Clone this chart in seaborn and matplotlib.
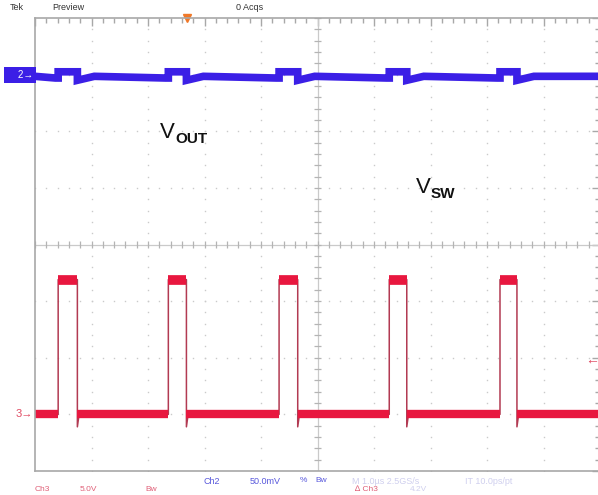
import numpy as np
import pandas as pd
import matplotlib
matplotlib.use('Agg')
import matplotlib.pyplot as plt
from matplotlib.transforms import offset_copy
import seaborn as sns

# scope capture, 10 x 8 divisions, time in divisions (1.0us/div)
# switching node (Ch3) edges
sw_rise = [0.41, 2.36, 4.32, 6.27, 8.23]
sw_fall = [0.75, 2.68, 4.65, 6.58, 8.53]
sw_low = -3.0
sw_high = -0.62
sw_undershoot = -3.22

# output ripple (Ch2), levels in divisions
vout_base = 2.97
vout_pre = 2.94
vout_bump = 3.05
vout_dip = 2.9
vout_recover = 0.3

trig_pos = 2.69
trig_level = -2.04
ch2_pos = 3.0
ch3_pos = -3.0

sns.set_style('white')
plt.rcParams['font.family'] = ['Liberation Sans', 'DejaVu Sans']

# build waveforms from the edge lists
sw_t, sw_v = [0.0], [sw_low]
vo_t, vo_v = [0.0], [vout_base]
for r, f in zip(sw_rise, sw_fall):
    sw_t += [r, r, f, f, f + 0.03]
    sw_v += [sw_low, sw_high, sw_high, sw_undershoot, sw_low]
    vo_t += [r - 0.05, r, r, f, f, f + vout_recover]
    vo_v += [vout_pre, vout_pre, vout_bump, vout_bump, vout_dip, vout_base]
sw_t.append(10.0)
sw_v.append(sw_low)
vo_t.append(10.0)
vo_v.append(vout_base)

sw = pd.DataFrame({'t': sw_t, 'v': sw_v})
vo = pd.DataFrame({'t': vo_t, 'v': vo_v})

fig = plt.figure(figsize=(5.98, 4.95), dpi=100)
ax = fig.add_axes([35 / 598, 24 / 495, 565 / 598, 453 / 495])
ax.set_xlim(0, 10)
ax.set_ylim(-4, 4)

# graticule
grid_c = '#cacaca'
for s in ax.spines.values():
    s.set_color('#a8a8a8')
    s.set_linewidth(1.2)
ax.set_xticks(np.arange(0, 11, 1))
ax.set_yticks(np.arange(-4, 5, 1))
ax.set_xticks(np.arange(0, 10.01, 0.2), minor=True)
ax.set_yticks(np.arange(-4, 4.01, 0.2), minor=True)
ax.tick_params(which='both', direction='in', top=True, right=True,
               labelbottom=False, labelleft=False, color='#a8a8a8')
ax.tick_params(which='major', length=6, width=1)
ax.tick_params(which='minor', length=3.5, width=1)

dots = np.arange(0, 10.01, 0.2)
for gx in [1, 2, 3, 4, 6, 7, 8, 9]:
    ax.plot(np.full(41, gx), np.arange(-4, 4.01, 0.2), ls='none', marker='s',
            ms=1.0, color=grid_c, mew=0)
for gy in [-3, -2, -1, 1, 2, 3]:
    ax.plot(dots, np.full(len(dots), gy), ls='none', marker='s', ms=1.0,
            color=grid_c, mew=0)
ax.axvline(5, color=grid_c, lw=0.9)
ax.axhline(0, color=grid_c, lw=0.9)
ax.hlines(np.arange(-4, 4.01, 0.2), 4.94, 5.06, color='#b4b4b4', lw=0.9)
ax.vlines(dots, -0.07, 0.07, color='#b4b4b4', lw=0.9)

# Ch2 output voltage trace
sns.lineplot(data=vo, x='t', y='v', sort=False, estimator=None, ax=ax,
             color='#3b1fe6', lw=5.5, solid_joinstyle='miter',
             solid_capstyle='butt')

# Ch3 switch node trace: thin edges plus noisy flat bands
sns.lineplot(data=sw, x='t', y='v', sort=False, estimator=None, ax=ax,
             color='#b23a52', lw=1.1)
low_start = [0.0] + sw_fall
low_end = sw_rise + [10.0]
ax.hlines([sw_low] * len(low_start), low_start, low_end, color='#e8173f',
          lw=6.0)
ax.hlines([sw_high] * len(sw_rise), sw_rise, sw_fall, color='#e8173f', lw=7.0)
ax.set_xlabel('')
ax.set_ylabel('')

# channel markers
ax.text(-0.03, ch2_pos, '    2\u2192', ha='right', va='center', color='white',
        fontsize=7, clip_on=False,
        bbox=dict(boxstyle='square,pad=0.3', fc='#3b1fe6', ec='none'))
ax.text(-0.03, ch3_pos, '3\u2192', ha='right', va='center', color='#e04a62',
        fontsize=8, clip_on=False)
ax.text(9.73, trig_level, '\u2190', ha='left', va='center', color='#e04a62',
        fontsize=10, clip_on=False)
ax.plot([trig_pos], [4.0], marker='v', ms=6, color='#f07828', clip_on=False)

# trace labels
ax.text(2.21, 1.88, 'V', fontsize=16, ha='left', va='baseline', color='#111111')
ax.text(2.21, 1.88, 'OUT', fontsize=11, ha='left', va='baseline',
        color='#111111', fontweight='bold',
        transform=offset_copy(ax.transData, fig=fig, x=11.5, y=-3.3,
                              units='points'))
ax.text(6.74, 0.91, 'V', fontsize=16, ha='left', va='baseline', color='#111111')
ax.text(6.74, 0.91, 'SW', fontsize=11, ha='left', va='baseline',
        color='#111111', fontweight='bold',
        transform=offset_copy(ax.transData, fig=fig, x=11.0, y=-3.3,
                              units='points'))

# status text around the screen
def px(x, y):
    return x / 598, 1 - y / 495

head_c = '#333333'
fig.text(*px(10, 7), 'Tek', fontsize=6.5, color=head_c, va='center')
fig.text(*px(52, 7), 'Preview', fontsize=6.5, color=head_c, va='center')
fig.text(*px(236, 7), '0 Acqs', fontsize=6.5, color=head_c, va='center')

blue_c = '#5858dc'
fig.text(*px(204, 481), 'Ch2', fontsize=6.5, color=blue_c, va='center')
fig.text(*px(250, 481), '50.0mV', fontsize=6.5, color=blue_c, va='center')
fig.text(*px(300, 481), '%', fontsize=6, color=blue_c, va='center')
fig.text(*px(315, 481), 'Bw', fontsize=6, color=blue_c, va='center')
faint_c = '#cfcfee'
fig.text(*px(352, 481), 'M 1.0\u00b5s 2.5GS/s', fontsize=6.5, color=faint_c,
         va='center')
fig.text(*px(465, 481), 'IT 10.0ps/pt', fontsize=6.5, color=faint_c,
         va='center')
red_c = '#e06078'
fig.text(*px(35, 486), 'Ch3', fontsize=6, color=red_c, va='top')
fig.text(*px(80, 486), '5.0V', fontsize=6, color=red_c, va='top')
fig.text(*px(145, 486), 'Bw', fontsize=6, color=red_c, va='top')
fig.text(*px(355, 486), '\u2206 Ch3', fontsize=6, color=red_c, va='top')
fig.text(*px(410, 486), '4.2V', fontsize=6, color=faint_c, va='top')

fig.savefig('out.png', dpi=100)
